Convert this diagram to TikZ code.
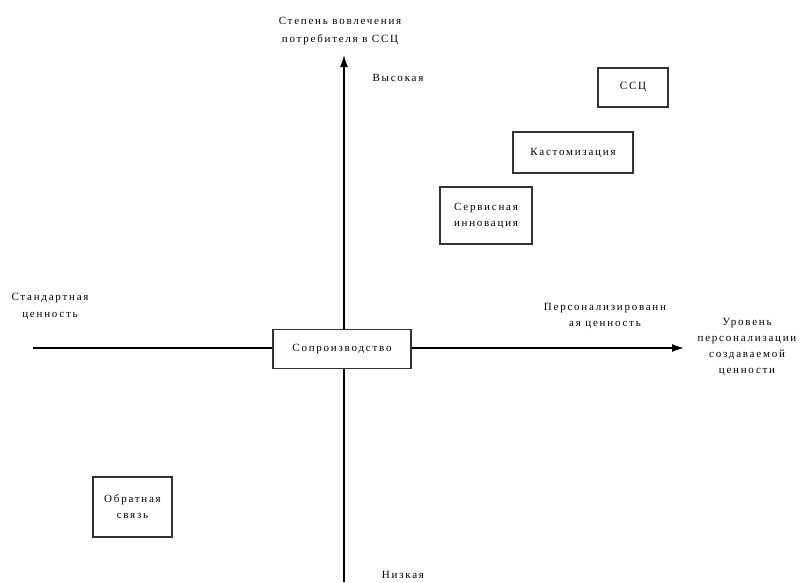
\documentclass[tikz,border=0pt]{standalone}
\usepackage{fontspec}
\setmainfont[LetterSpace=16]{Liberation Serif}
\usetikzlibrary{arrows.meta}
\begin{document}
\begin{tikzpicture}[x=1pt,y=-1pt,
  every node/.style={font=\fontsize{11}{16}\selectfont, align=center, inner sep=0pt},
  box/.style={draw=black!80, line width=1.7pt, fill=white},
  axis/.style={line width=1.4pt, -{Latex[length=12pt,width=8pt]}},
  lbl/.style={}]
\useasboundingbox (0,0) rectangle (802,582);
% axis endpoints
\coordinate (xl) at (33,348);
\coordinate (xr) at (684,348);
\coordinate (yb) at (344,582);
\coordinate (yt) at (344,55);
\draw[axis] (xl) -- (xr);
\draw[axis] (yb) -- (yt);
% boxes
\node[box, minimum width=138pt, minimum height=39pt] (cop) at (342,349) {Сопроизводство};
\node[box, minimum width=70pt, minimum height=39pt] (ssc) at (633,87.5) {ССЦ};
\node[box, minimum width=120pt, minimum height=41pt] (kast) at (573,152.5) {Кастомизация};
\node[box, minimum width=92pt, minimum height=57pt] (serv) at (486,215.5) {Сервисная\\инновация};
\node[box, minimum width=79pt, minimum height=60pt] (obr) at (132.5,507) {Обратная\\связь};
% labels
\node[lbl, font=\fontsize{11}{18}\selectfont] (top) at (340,31) {Степень вовлечения\\потребителя в ССЦ};
\node[lbl] (high) at (398,78) {Высокая};
\node[lbl] (low) at (403,575) {Низкая};
\node[lbl, font=\fontsize{11}{17}\selectfont] (std) at (50,306) {Стандартная\\ценность};
\node[lbl] (pers) at (605,316) {Персонализированн\\ая ценность};
\node[lbl] (lvl) at (747,347) {Уровень\\персонализации\\создаваемой\\ценности};
\end{tikzpicture}
\end{document}
